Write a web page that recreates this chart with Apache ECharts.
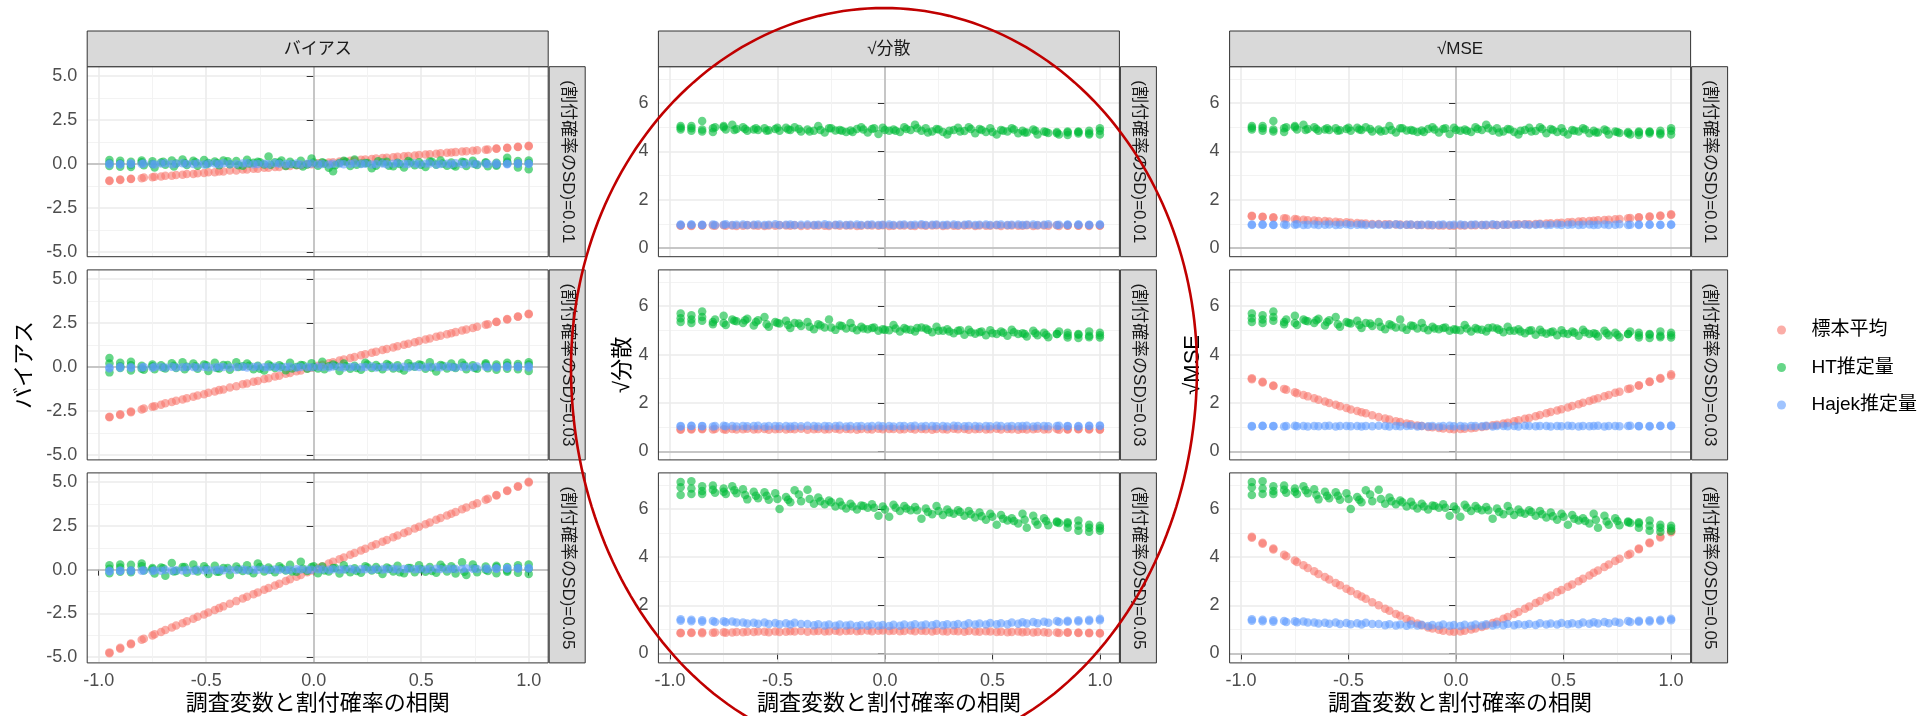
<!DOCTYPE html>
<html><head><meta charset="utf-8">
<script src="https://cdn.jsdelivr.net/npm/echarts@6/dist/echarts.min.js"></script>
<style>html,body{margin:0;padding:0;background:#fff}#c{width:1921px;height:716px}</style>
</head><body><div id="c"></div><script>
// ---------------- DATA ----------------
const colLabels = ['バイアス', '√分散', '√MSE'];
const rowLabels = ['(割付確率のSD)=0.01', '(割付確率のSD)=0.03', '(割付確率のSD)=0.05'];
const yTitles = ['バイアス', '√分散', '√MSE'];
const xTitle = '調査変数と割付確率の相関';
const seriesNames = ['標本平均', 'HT推定量', 'Hajek推定量'];
const xTicks = [-1.0, -0.5, 0.0, 0.5, 1.0];
const xMinor = [-0.75, -0.25, 0.25, 0.75];
const yTicksBias = [-5.0, -2.5, 0.0, 2.5, 5.0];
const yMinorBias = [-3.75, -1.25, 1.25, 3.75];
const yTicksSd = [0, 2, 4, 6];
const yMinorSd = [1, 3, 5, 7];

// correlation between survey variable and assignment probability (x)
const xs = [-0.95,-0.95,-0.90,-0.90,-0.85,-0.85,-0.80,-0.79,-0.75,-0.74,-0.71,-0.69,-0.66,-0.64,-0.61,-0.59,-0.56,-0.54,-0.51,-0.49,
 -0.46,-0.44,-0.42,-0.39,-0.36,-0.33,-0.31,-0.28,-0.26,-0.23,-0.21,-0.18,-0.16,-0.13,-0.11,-0.08,-0.06,-0.03,-0.01,0.02,
 0.04,0.07,0.09,0.12,0.14,0.17,0.19,0.22,0.24,0.27,0.29,0.32,0.34,0.37,0.39,0.42,0.44,0.47,0.49,0.52,
 0.54,0.57,0.59,0.62,0.64,0.66,0.69,0.71,0.74,0.76,0.80,0.81,0.85,0.85,0.90,0.90,0.95,0.95,1.00,1.00];
// extra HT replicate positions (target correlations)
const xsT = [-0.95,-0.90,-0.85,-0.80,-0.75,-0.70,-0.65,-0.60,-0.55,-0.50,-0.45,-0.40,-0.35,-0.30,-0.25,-0.20,-0.15,-0.10,-0.05,0.00,
 0.05,0.10,0.15,0.20,0.25,0.30,0.35,0.40,0.45,0.50,0.55,0.60,0.65,0.70,0.75,0.80,0.85,0.90,0.95,1.00];

// ---- SD = 0.01 ----
const L1_red = [-0.97,-0.95,-0.91,-0.89,-0.86,-0.84,-0.81,-0.78,-0.76,-0.73,-0.72,-0.68,-0.67,-0.63,-0.62,-0.58,-0.57,-0.53,-0.52,-0.48,
 -0.47,-0.43,-0.43,-0.38,-0.37,-0.32,-0.32,-0.27,-0.27,-0.22,-0.22,-0.17,-0.17,-0.12,-0.12,-0.07,-0.07,-0.02,-0.02,0.03,
 0.05,0.08,0.10,0.13,0.15,0.18,0.20,0.23,0.25,0.28,0.30,0.33,0.35,0.38,0.40,0.43,0.45,0.48,0.50,0.53,
 0.55,0.58,0.60,0.63,0.65,0.67,0.70,0.72,0.75,0.77,0.81,0.82,0.86,0.87,0.91,0.92,0.96,0.97,1.00,1.03];
const L1_green = [0.22,-0.12,0.18,-0.16,0.12,-0.18,0.10,-0.08,0.15,-0.20,0.08,-0.05,0.20,0.02,0.25,-0.06,0.18,-0.10,0.22,0.05,
 0.14,-0.08,0.20,-0.02,0.16,-0.10,0.24,0.06,0.12,-0.04,0.42,0.10,0.08,-0.12,0.12,-0.06,0.18,-0.04,0.30,-0.10,
 0.10,-0.22,-0.42,0.05,0.18,-0.12,0.25,0.02,0.05,-0.25,-0.10,0.08,0.12,-0.14,0.06,-0.20,0.16,-0.08,0.10,-0.18,
 0.14,-0.05,0.20,-0.10,0.08,-0.15,0.12,-0.12,0.18,-0.06,0.10,-0.14,0.06,-0.10,0.35,0.04,0.16,-0.20,0.20,-0.30];
const L1_green2 = [0.05,0.02,-0.05,0.20,0.00,0.12,-0.15,0.05,0.10,-0.02,0.05,0.15,-0.08,0.02,0.10,-0.05,0.20,0.00,-0.15,0.08,
 0.02,-0.08,0.12,-0.05,0.05,0.15,-0.10,0.00,0.08,-0.05,0.12,0.02,-0.08,0.10,0.00,0.05,-0.05,0.12,0.02,0.05];
const L1_blue = [0.02,-0.03,0.00,-0.04,0.03,-0.02,-0.01,0.02,0.00,-0.03,0.02,0.04,-0.02,0.01,0.03,-0.01,0.00,0.02,-0.03,0.01,
 0.02,-0.02,0.04,0.00,-0.01,0.02,0.03,-0.02,0.00,0.01,-0.02,0.03,0.01,-0.01,0.00,0.02,-0.03,0.01,0.02,-0.02,
 0.00,-0.03,0.01,0.02,-0.02,0.00,0.03,-0.01,0.01,-0.03,0.00,0.02,-0.02,0.01,0.03,-0.01,0.00,0.02,-0.02,0.01,
 0.02,-0.03,0.00,0.01,-0.02,0.03,0.00,-0.01,0.02,-0.02,0.01,0.00,-0.03,0.02,0.01,-0.02,0.03,-0.01,0.00,0.02];
const M1_red = [0.93,0.92,0.93,0.91,0.92,0.94,0.93,0.92,0.94,0.92,0.93,0.91,0.92,0.94,0.93,0.92,0.91,0.93,0.92,0.94,
 0.93,0.92,0.94,0.91,0.92,0.93,0.93,0.92,0.91,0.94,0.92,0.93,0.93,0.91,0.92,0.94,0.93,0.92,0.94,0.91,
 0.92,0.93,0.93,0.92,0.91,0.94,0.92,0.93,0.94,0.91,0.93,0.92,0.92,0.93,0.94,0.91,0.93,0.92,0.92,0.94,
 0.91,0.93,0.93,0.92,0.92,0.94,0.91,0.93,0.93,0.92,0.94,0.91,0.92,0.93,0.93,0.92,0.91,0.94,0.92,0.93];
const HT1_sd = [5.05,4.90,4.95,4.85,5.25,4.82,4.80,5.00,5.05,4.90,5.10,4.92,5.00,4.85,4.90,4.88,4.95,4.87,4.92,4.85,
 4.98,4.88,5.00,4.82,4.90,4.85,5.05,4.78,4.95,4.86,4.88,4.80,4.86,4.92,5.00,4.78,4.92,4.72,4.98,4.85,
 4.90,4.80,5.00,4.88,5.10,4.85,4.95,4.82,4.92,4.80,4.70,4.88,4.98,4.84,5.00,4.75,4.92,4.80,4.95,4.70,
 4.88,4.82,4.95,4.75,4.85,4.78,4.90,4.70,4.82,4.76,4.80,4.70,4.78,4.68,4.82,4.74,4.85,4.70,4.95,4.70];
const HT1_sd2 = [4.98,5.05,4.90,4.95,5.00,4.88,4.92,4.95,4.85,4.98,4.90,4.92,4.82,4.88,4.95,4.85,4.80,4.90,4.95,4.88,
 4.85,4.92,4.95,4.78,4.90,4.85,4.82,4.92,4.88,4.80,4.85,4.90,4.78,4.85,4.80,4.75,4.82,4.80,4.75,4.85];
const HJ1_sd = [0.97,0.95,0.96,0.97,0.95,0.96,0.97,0.95,0.96,0.98,0.95,0.96,0.97,0.95,0.96,0.97,0.95,0.96,0.98,0.95,
 0.96,0.97,0.95,0.96,0.97,0.95,0.96,0.98,0.95,0.96,0.97,0.95,0.96,0.97,0.95,0.96,0.97,0.95,0.96,0.97,
 0.95,0.96,0.97,0.95,0.96,0.98,0.95,0.96,0.97,0.95,0.96,0.97,0.95,0.96,0.98,0.95,0.96,0.97,0.95,0.96,
 0.97,0.95,0.96,0.97,0.95,0.96,0.97,0.95,0.96,0.98,0.95,0.96,0.97,0.95,0.96,0.97,0.95,0.96,0.97,0.96];
const R1_red = [1.34,1.32,1.30,1.28,1.27,1.25,1.23,1.22,1.20,1.18,1.17,1.15,1.14,1.12,1.12,1.10,1.09,1.07,1.07,1.05,
 1.04,1.02,1.02,1.00,1.00,0.98,0.98,0.97,0.97,0.96,0.96,0.95,0.95,0.94,0.94,0.93,0.93,0.92,0.92,0.93,
 0.93,0.94,0.94,0.95,0.94,0.95,0.95,0.96,0.96,0.97,0.98,0.99,0.99,1.00,1.01,1.02,1.03,1.04,1.05,1.07,
 1.08,1.10,1.11,1.12,1.13,1.15,1.16,1.17,1.19,1.20,1.23,1.24,1.26,1.27,1.29,1.31,1.33,1.35,1.37,1.40];

// ---- SD = 0.03 ----
const L2_red = [-2.86,-2.83,-2.72,-2.68,-2.57,-2.53,-2.41,-2.36,-2.26,-2.23,-2.14,-2.06,-1.99,-1.91,-1.84,-1.77,-1.69,-1.61,-1.54,-1.46,
 -1.39,-1.31,-1.27,-1.16,-1.09,-0.98,-0.94,-0.83,-0.79,-0.68,-0.64,-0.53,-0.49,-0.38,-0.34,-0.23,-0.19,-0.08,-0.04,0.07,
 0.13,0.22,0.28,0.37,0.43,0.52,0.58,0.67,0.73,0.82,0.88,0.97,1.03,1.12,1.18,1.27,1.33,1.42,1.48,1.57,
 1.63,1.72,1.78,1.87,1.93,1.99,2.08,2.14,2.23,2.29,2.41,2.44,2.56,2.58,2.71,2.73,2.86,2.88,3.00,3.03];
const L2_green = [0.52,-0.30,0.25,-0.05,0.30,-0.20,0.08,-0.15,0.05,-0.12,0.10,-0.08,0.22,-0.05,0.28,0.02,0.20,-0.10,0.15,-0.22,
 0.25,-0.08,0.12,-0.15,0.28,0.05,0.20,-0.12,0.08,-0.20,0.15,-0.05,0.10,-0.18,0.25,0.00,0.12,-0.10,0.22,-0.08,
 0.30,0.05,0.15,-0.22,0.20,-0.10,0.08,-0.15,0.25,-0.05,0.12,-0.12,0.18,-0.08,0.10,-0.20,0.22,0.02,0.15,-0.10,
 0.28,-0.25,0.12,-0.08,0.20,-0.05,0.25,-0.12,0.10,-0.10,0.22,-0.06,0.15,-0.15,0.25,-0.10,0.18,-0.12,0.28,-0.22];
const L2_green2 = [0.20,0.05,0.10,-0.10,0.15,-0.02,0.08,-0.12,0.05,0.10,-0.05,0.12,0.00,0.08,-0.10,0.05,0.02,-0.08,0.10,0.00,
 -0.12,0.08,0.05,-0.05,0.15,0.00,0.10,-0.08,0.05,0.12,-0.02,0.08,0.00,0.10,-0.05,0.15,0.02,0.10,0.05,0.15];
const L2_blue = [-0.08,-0.02,0.02,-0.04,0.00,-0.05,-0.03,0.01,-0.04,0.02,0.00,-0.03,0.02,-0.02,-0.01,0.01,0.00,-0.03,0.02,-0.01,
 -0.02,0.02,0.01,-0.03,0.00,0.02,-0.02,0.01,0.03,-0.01,0.00,0.02,-0.03,0.01,0.02,-0.02,0.00,0.01,-0.01,0.02,
 0.01,-0.02,0.03,0.00,-0.02,0.01,0.02,-0.01,0.00,0.03,-0.02,0.01,0.02,-0.01,0.00,0.02,-0.02,0.03,0.01,-0.01,
 0.02,0.00,-0.01,0.03,0.01,-0.02,0.02,0.00,-0.01,0.03,0.02,0.00,0.01,-0.02,0.03,0.01,0.00,0.04,0.05,-0.02];
const M2_red = [0.91,0.89,0.92,0.90,0.91,0.93,0.90,0.92,0.91,0.89,0.92,0.90,0.91,0.93,0.90,0.91,0.92,0.89,0.91,0.92,
 0.90,0.92,0.91,0.93,0.89,0.91,0.92,0.90,0.91,0.93,0.90,0.92,0.91,0.89,0.92,0.91,0.90,0.93,0.91,0.92,
 0.92,0.90,0.91,0.93,0.90,0.92,0.91,0.89,0.92,0.91,0.90,0.93,0.91,0.92,0.89,0.91,0.92,0.90,0.91,0.93,
 0.90,0.92,0.91,0.89,0.92,0.90,0.91,0.93,0.90,0.91,0.92,0.89,0.91,0.90,0.92,0.91,0.90,0.92,0.89,0.91];
const HT2_sd = [5.70,5.35,5.62,5.30,5.78,5.40,5.25,5.45,5.60,5.22,5.45,5.38,5.30,5.48,5.20,5.42,5.55,5.15,5.35,5.28,
 5.40,5.10,5.30,5.18,5.35,5.05,5.25,5.12,5.45,5.02,5.20,5.08,5.30,5.00,5.15,5.05,5.10,4.98,5.05,5.00,
 5.22,4.95,5.10,5.02,4.95,5.12,5.08,4.92,5.15,4.98,5.05,4.88,4.98,4.82,5.02,4.86,4.92,4.80,5.00,4.85,
 4.95,4.78,5.02,4.85,4.88,4.75,4.98,4.80,4.90,4.72,4.85,4.95,4.70,4.90,4.82,4.68,4.95,4.72,4.90,4.70];
const HT2_sd2 = [5.50,5.45,5.55,5.35,5.30,5.40,5.42,5.35,5.25,5.30,5.22,5.28,5.15,5.20,5.12,5.18,5.10,5.08,5.12,5.02,
 5.08,5.05,5.10,5.02,4.98,4.95,5.00,4.92,4.95,4.88,4.90,4.92,4.85,4.88,4.82,4.85,4.80,4.85,4.78,4.80];
const HJ2_sd = [1.05,1.02,1.04,1.06,1.03,1.05,1.02,1.04,1.06,1.03,1.04,1.02,1.05,1.03,1.04,1.06,1.02,1.04,1.05,1.03,
 1.04,1.02,1.05,1.03,1.06,1.04,1.02,1.05,1.03,1.04,1.06,1.02,1.04,1.03,1.05,1.02,1.04,1.06,1.03,1.04,
 1.02,1.05,1.04,1.03,1.06,1.02,1.04,1.05,1.03,1.04,1.02,1.06,1.04,1.03,1.05,1.04,1.02,1.05,1.03,1.06,
 1.04,1.02,1.05,1.03,1.04,1.06,1.02,1.04,1.05,1.03,1.04,1.06,1.03,1.05,1.04,1.02,1.06,1.04,1.05,1.07];
const R2_red = [3.02,2.98,2.87,2.84,2.72,2.70,2.58,2.54,2.44,2.40,2.33,2.27,2.19,2.13,2.06,2.00,1.92,1.86,1.79,1.73,
 1.67,1.61,1.57,1.49,1.42,1.35,1.31,1.24,1.21,1.15,1.12,1.07,1.05,1.00,0.99,0.96,0.94,0.92,0.91,0.92,
 0.93,0.95,0.97,1.00,1.03,1.08,1.10,1.15,1.18,1.24,1.28,1.34,1.38,1.45,1.50,1.57,1.62,1.69,1.74,1.81,
 1.87,1.94,2.01,2.08,2.14,2.19,2.28,2.33,2.42,2.46,2.58,2.60,2.71,2.73,2.86,2.88,3.00,3.03,3.12,3.18];

// ---- SD = 0.05 ----
const L3_red = [-4.78,-4.73,-4.52,-4.47,-4.27,-4.22,-4.01,-3.95,-3.76,-3.70,-3.56,-3.45,-3.31,-3.20,-3.06,-2.95,-2.81,-2.70,-2.56,-2.45,
 -2.31,-2.20,-2.10,-1.95,-1.80,-1.65,-1.55,-1.40,-1.30,-1.15,-1.05,-0.90,-0.80,-0.65,-0.55,-0.40,-0.30,-0.15,-0.05,0.10,
 0.20,0.35,0.45,0.60,0.70,0.85,0.95,1.10,1.20,1.35,1.45,1.60,1.70,1.85,1.95,2.10,2.20,2.35,2.45,2.60,
 2.70,2.85,2.95,3.10,3.20,3.30,3.45,3.55,3.70,3.80,4.00,4.05,4.24,4.27,4.49,4.52,4.74,4.77,4.98,5.02];
const L3_green = [0.25,-0.20,0.30,-0.12,0.28,-0.15,0.35,-0.05,0.10,-0.22,0.12,-0.35,0.38,-0.08,0.15,-0.18,0.30,-0.10,0.20,-0.25,
 0.22,-0.12,0.10,-0.30,0.18,-0.08,0.25,-0.20,0.35,-0.10,0.12,-0.15,0.20,-0.05,0.28,-0.12,0.45,-0.08,0.15,-0.20,
 0.18,-0.10,0.10,-0.22,0.25,-0.15,0.08,-0.18,0.20,-0.05,0.15,-0.25,0.12,-0.10,0.22,-0.20,0.10,-0.15,0.25,-0.12,
 0.15,-0.18,0.28,-0.10,0.20,-0.22,0.42,-0.30,0.30,-0.15,0.18,-0.08,0.22,-0.20,0.15,-0.12,0.25,-0.18,0.30,-0.25];
const L3_green2 = [0.05,0.12,-0.05,0.20,0.02,0.08,-0.10,0.15,0.00,0.05,-0.12,0.10,0.02,-0.05,0.15,0.00,0.08,-0.10,0.05,0.20,
 -0.05,0.10,0.02,-0.08,0.12,0.00,0.05,-0.15,0.10,0.02,-0.08,0.12,0.05,-0.12,0.08,0.00,0.15,-0.05,0.10,0.05];
const L3_blue = [-0.10,-0.06,-0.08,-0.05,-0.09,-0.04,-0.07,-0.03,-0.08,-0.04,-0.06,-0.02,-0.07,-0.03,-0.05,-0.02,-0.06,-0.01,-0.04,-0.02,
 -0.03,0.00,-0.04,-0.01,-0.02,0.01,-0.03,0.00,-0.01,0.02,-0.02,0.01,0.00,-0.02,-0.01,0.02,0.01,-0.01,0.00,0.02,
 0.01,-0.01,0.02,0.00,0.01,0.03,-0.01,0.02,0.02,0.00,0.03,0.01,0.02,0.04,0.01,0.03,0.03,0.02,0.04,0.01,
 0.03,0.05,0.04,0.02,0.05,0.03,0.04,0.06,0.05,0.03,0.06,0.04,0.07,0.05,0.06,0.08,0.08,0.06,0.10,0.07];
const M3_red = [0.84,0.86,0.85,0.87,0.84,0.88,0.86,0.87,0.88,0.86,0.87,0.89,0.88,0.90,0.89,0.91,0.90,0.88,0.91,0.89,
 0.90,0.92,0.91,0.93,0.90,0.92,0.93,0.91,0.92,0.94,0.91,0.93,0.94,0.92,0.93,0.95,0.92,0.94,0.95,0.93,
 0.94,0.92,0.93,0.95,0.92,0.94,0.93,0.91,0.94,0.92,0.91,0.93,0.92,0.90,0.93,0.91,0.90,0.92,0.91,0.89,
 0.90,0.88,0.89,0.91,0.88,0.90,0.87,0.89,0.88,0.86,0.87,0.85,0.86,0.88,0.85,0.87,0.84,0.86,0.85,0.83];
const HT3_sd = [7.12,6.58,7.15,6.62,6.95,6.62,6.98,6.68,6.85,6.62,6.95,6.65,6.82,6.40,6.72,6.45,6.70,6.38,6.65,6.00,
 6.50,6.28,6.78,6.32,6.80,6.22,6.48,6.20,6.35,6.10,6.30,6.02,6.22,5.98,6.15,6.05,6.20,5.72,6.10,5.68,
 6.18,5.92,6.12,5.95,6.08,5.60,6.02,5.78,6.12,5.75,5.98,5.80,5.95,5.72,5.92,5.65,5.85,5.55,5.80,5.35,
 5.75,5.52,5.62,5.40,5.80,5.22,5.72,5.35,5.62,5.32,5.48,5.42,5.45,5.22,5.52,5.10,5.35,5.05,5.30,5.10];
const HT3_sd2 = [6.90,6.85,6.75,6.80,6.72,6.78,6.58,6.55,6.55,6.42,6.38,6.60,6.42,6.32,6.28,6.15,6.10,6.12,6.05,5.98,
 6.05,6.02,5.95,5.88,5.92,5.85,5.88,5.78,5.70,5.68,5.60,5.50,5.55,5.48,5.50,5.45,5.40,5.30,5.22,5.20];
const HJ3_sd = [1.42,1.36,1.40,1.34,1.38,1.32,1.35,1.30,1.34,1.29,1.33,1.28,1.28,1.24,1.27,1.23,1.28,1.22,1.26,1.21,
 1.25,1.20,1.27,1.22,1.22,1.17,1.21,1.16,1.20,1.15,1.20,1.16,1.19,1.14,1.18,1.15,1.20,1.15,1.18,1.14,
 1.19,1.15,1.20,1.16,1.21,1.16,1.20,1.17,1.22,1.17,1.21,1.18,1.22,1.18,1.25,1.20,1.24,1.20,1.26,1.21,
 1.25,1.21,1.28,1.23,1.29,1.24,1.30,1.25,1.32,1.27,1.35,1.30,1.36,1.32,1.38,1.33,1.40,1.35,1.44,1.38];
const R3_red = [4.85,4.81,4.60,4.56,4.36,4.32,4.10,4.04,3.86,3.80,3.66,3.55,3.41,3.30,3.17,3.07,2.93,2.83,2.69,2.59,
 2.46,2.36,2.27,2.13,2.00,1.86,1.77,1.64,1.56,1.43,1.36,1.24,1.17,1.08,1.03,0.98,0.94,0.91,0.90,0.91,
 0.94,0.99,1.03,1.10,1.16,1.26,1.32,1.44,1.51,1.64,1.72,1.86,1.95,2.09,2.18,2.32,2.41,2.55,2.63,2.77,
 2.86,3.00,3.10,3.24,3.35,3.44,3.59,3.69,3.84,3.93,4.09,4.14,4.33,4.36,4.58,4.61,4.82,4.86,5.03,5.08];

// panels[row][col] = [標本平均, HT推定量, Hajek推定量]; extraHT[row][col] = extra HT replicates at xsT
const panels = [
  [[L1_red, L1_green, L1_blue], [M1_red, HT1_sd, HJ1_sd], [R1_red, HT1_sd, HJ1_sd]],
  [[L2_red, L2_green, L2_blue], [M2_red, HT2_sd, HJ2_sd], [R2_red, HT2_sd, HJ2_sd]],
  [[L3_red, L3_green, L3_blue], [M3_red, HT3_sd, HJ3_sd], [R3_red, HT3_sd, HJ3_sd]]
];
const extraHT = [
  [L1_green2, HT1_sd2, HT1_sd2],
  [L2_green2, HT2_sd2, HT2_sd2],
  [L3_green2, HT3_sd2, HT3_sd2]
];
panels.forEach((row, r) => row.forEach((p, c) => {
  p.forEach((a, s) => { if (a.length !== xs.length) throw new Error('len r' + r + ' c' + c + ' s' + s + ': ' + a.length); });
  if (extraHT[r][c].length !== xsT.length) throw new Error('extra len r' + r + ' c' + c + ': ' + extraHT[r][c].length);
}));

// ---------------- LAYOUT / STYLE ----------------
const FONT = "'Liberation Sans','Noto Sans CJK JP',sans-serif";
const COLORS = ['#F8766D', '#00BA38', '#619CFF'];
const colLeft = [87.2, 658.4, 1229.6];
const panelW = 461;
const rowTop = [66.7, 269.9, 472.9];
const panelH = 190;
const stripTop = 31, stripH = 35.7, stripW = 36;
const X_MIN = -1.0535, X_MAX = 1.0907;
const Y_BIAS = [-5.28, 5.53];
const Y_SD = [-0.357, 7.5];
const yNameGap = [51, 24, 26];

const grids = [], xAxes = [], yAxes = [], series = [], graphics = [];
for (let r = 0; r < 3; r++) {
  for (let c = 0; c < 3; c++) {
    const k = r * 3 + c;
    const bottom = r === 2;
    const bias = c === 0;
    grids.push({left: colLeft[c], top: rowTop[r], width: panelW, height: panelH, show: false});
    xAxes.push({
      gridIndex: k, type: 'value', min: X_MIN, max: X_MAX, position: 'bottom',
      axisLine: {show: false},
      axisTick: {show: bottom, customValues: xTicks, length: 6, lineStyle: {color: '#333333', width: 1}},
      axisLabel: {show: bottom, customValues: xTicks, formatter: v => v.toFixed(1), margin: 10,
        fontSize: 18, color: '#4D4D4D', fontFamily: FONT},
      splitLine: {show: true, lineStyle: {color: '#EBEBEB', width: 1.6}},
      name: bottom ? xTitle : '', nameLocation: 'middle', nameGap: 31,
      nameTextStyle: {fontSize: 22, color: '#000', fontFamily: FONT}
    });
    xAxes.push({
      gridIndex: k, type: 'value', min: X_MIN, max: X_MAX, position: 'top',
      axisLine: {show: false}, axisTick: {show: false, customValues: xMinor},
      axisLabel: {show: false, customValues: xMinor},
      splitLine: {show: true, lineStyle: {color: '#F2F2F2', width: 0.9}}
    });
    const yr = bias ? Y_BIAS : Y_SD;
    const yt = bias ? yTicksBias : yTicksSd;
    const ym = bias ? yMinorBias : yMinorSd;
    yAxes.push({
      gridIndex: k, type: 'value', min: yr[0], max: yr[1], position: 'left',
      axisLine: {show: false},
      axisTick: {show: true, customValues: yt, length: 7, lineStyle: {color: '#333333', width: 1}},
      axisLabel: {show: true, customValues: yt, formatter: v => bias ? v.toFixed(1) : String(v), margin: 10,
        fontSize: 18, color: '#4D4D4D', fontFamily: FONT},
      splitLine: {show: true, lineStyle: {color: '#EBEBEB', width: 1.6}},
      name: r === 1 ? yTitles[c] : '', nameLocation: 'middle', nameGap: yNameGap[c],
      nameTextStyle: {fontSize: 22, color: '#000', fontFamily: FONT}
    });
    yAxes.push({
      gridIndex: k, type: 'value', min: yr[0], max: yr[1], position: 'right',
      axisLine: {show: false}, axisTick: {show: false, customValues: ym},
      axisLabel: {show: false, customValues: ym},
      splitLine: {show: true, lineStyle: {color: '#F2F2F2', width: 0.9}}
    });
    series.push({
      type: 'line', xAxisIndex: 2 * k, yAxisIndex: 2 * k, data: [], silent: true, z: 1,
      markLine: {silent: true, symbol: ['none', 'none'], label: {show: false}, z: 1, animation: false,
        lineStyle: {color: '#B8B8B8', width: 1.5, type: 'solid'},
        data: [{xAxis: 0}, {yAxis: 0}]}
    });
    panels[r][c].forEach((ys, s) => {
      let data = xs.map((x, i) => [x, ys[i]]);
      if (s === 1) data = data.concat(xsT.map((x, i) => [x, extraHT[r][c][i]]));
      series.push({
        name: seriesNames[s], type: 'scatter', xAxisIndex: 2 * k, yAxisIndex: 2 * k,
        symbol: 'circle', symbolSize: 8.5, z: 2 + s, silent: true,
        itemStyle: {color: COLORS[s], opacity: 0.6},
        data: data
      });
    });
    graphics.push({type: 'rect', z: 50, silent: true,
      shape: {x: colLeft[c], y: rowTop[r], width: panelW, height: panelH},
      style: {fill: null, stroke: '#333333', lineWidth: 1}});
    const sx = colLeft[c] + panelW + 1;
    graphics.push({type: 'rect', z: 50, silent: true,
      shape: {x: sx, y: rowTop[r], width: stripW, height: panelH},
      style: {fill: '#D9D9D9', stroke: '#333333', lineWidth: 1}});
    graphics.push({type: 'text', z: 51, silent: true, x: sx + stripW / 2, y: rowTop[r] + panelH / 2, rotation: -Math.PI / 2,
      style: {text: rowLabels[r], fontSize: 17, fontFamily: FONT, fill: '#1A1A1A', align: 'center', verticalAlign: 'middle'}});
  }
}
for (let c = 0; c < 3; c++) {
  graphics.push({type: 'rect', z: 50, silent: true,
    shape: {x: colLeft[c], y: stripTop, width: panelW, height: stripH},
    style: {fill: '#D9D9D9', stroke: '#333333', lineWidth: 1}});
  graphics.push({type: 'text', z: 51, silent: true, x: colLeft[c] + panelW / 2, y: stripTop + stripH / 2,
    style: {text: colLabels[c], fontSize: 17, fontFamily: FONT, fill: '#1A1A1A', align: 'center', verticalAlign: 'middle'}});
}
// red hand-drawn ellipse annotation around the middle column
const ell = {cx: 884, cy: 368, rx: 313, ryTop: 360, ryBot: 388};
const ellPts = [];
for (let i = 0; i <= 240; i++) {
  const t = i / 240 * 2 * Math.PI, s = Math.sin(t);
  ellPts.push([ell.cx + ell.rx * Math.cos(t), ell.cy + (s > 0 ? ell.ryBot : ell.ryTop) * s]);
}
graphics.push({type: 'polyline', z: 100, silent: true, shape: {points: ellPts},
  style: {stroke: '#C00000', lineWidth: 2.6, fill: null}});

const chart = echarts.init(document.getElementById('c'), null, {renderer: 'canvas'});
chart.setOption({
  animation: false,
  backgroundColor: '#ffffff',
  grid: grids, xAxis: xAxes, yAxis: yAxes, series: series, graphic: graphics,
  legend: {
    data: seriesNames, orient: 'vertical', left: 1772, top: 315,
    icon: 'circle', itemWidth: 50, itemHeight: 9, itemGap: 17.5,
    itemStyle: {opacity: 0.6},
    textStyle: {fontSize: 19, lineHeight: 20, color: '#000', fontFamily: FONT}
  }
});
</script></body></html>
